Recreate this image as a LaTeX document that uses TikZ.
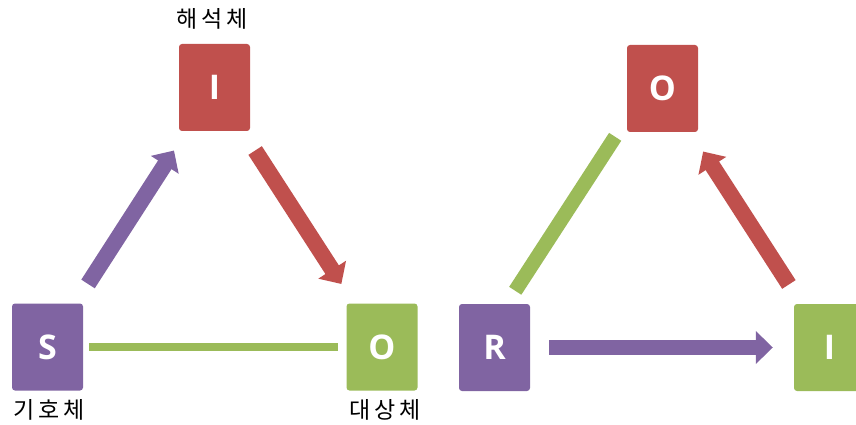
\documentclass[tikz,border=0pt]{standalone}
\usepackage{fontspec}
\setmainfont{Open Sans}
\newfontfamily\kor[LetterSpace=15]{Noto Sans CJK KR}
\usetikzlibrary{arrows.meta}
\definecolor{sred}{HTML}{C0504D}
\definecolor{spurple}{HTML}{8064A2}
\definecolor{sgreen}{HTML}{9BBB59}

\begin{document}
\begin{tikzpicture}[x=1pt,y=-1pt,
box/.style={
font=\fontsize{34}{34}\selectfont\bfseries,
text=white,
rounded corners=3pt,
minimum width=71pt,
minimum height=87pt,
inner sep=0pt,
},
lab/.style={
font=\kor\fontsize{23}{23}\selectfont,
inner sep=0pt,
},
bar/.style={
line width=16pt,
},
tip/.style={
-{Triangle[length=17pt,width=32pt]},
}
]

\useasboundingbox(0,0)rectangle(856,425);

\begin{scope}
%sign triangle
\node[box,fill=sred](I)at(214.5,87.5){I};
\node[box,fill=spurple](S)at(47.5,347){S};
\node[box,fill=sgreen](O)at(382,347){O};
\node[lab](labI)at(212,19){해석체};
\node[lab](labS)at(49,410){기호체};
\node[lab](labO)at(385,410){대상체};

\draw[bar,tip,color=spurple,shorten <=23pt,shorten >=23pt](S)--(I);
\draw[bar,tip,color=sred,shorten <=23pt,shorten >=23pt](I)--(O);
\draw[color=sgreen,line width=8pt,shorten <=6pt,shorten >=8pt](S)--(O);
\end{scope}

\begin{scope}[shift={(447.5,0)}]
%roles
\node[box,fill=sred](rO)at(215,88.5){O};
\node[box,fill=spurple](rR)at(47,347.5){R};
\node[box,fill=sgreen](rI)at(382,347.5){I};

\draw[color=sgreen,line width=14.5pt,shorten <=15.5pt,shorten >=5.5pt,transform canvas={xshift=-16pt}](rR)--(rO);
\draw[bar,tip,color=sred,shorten <=23pt,shorten >=23pt](rI)--(rO);
\draw[bar,tip,color=spurple,line width=15pt,shorten <=19pt,shorten >=21pt](rR)--(rI);
\end{scope}

\end{tikzpicture}
\end{document}
